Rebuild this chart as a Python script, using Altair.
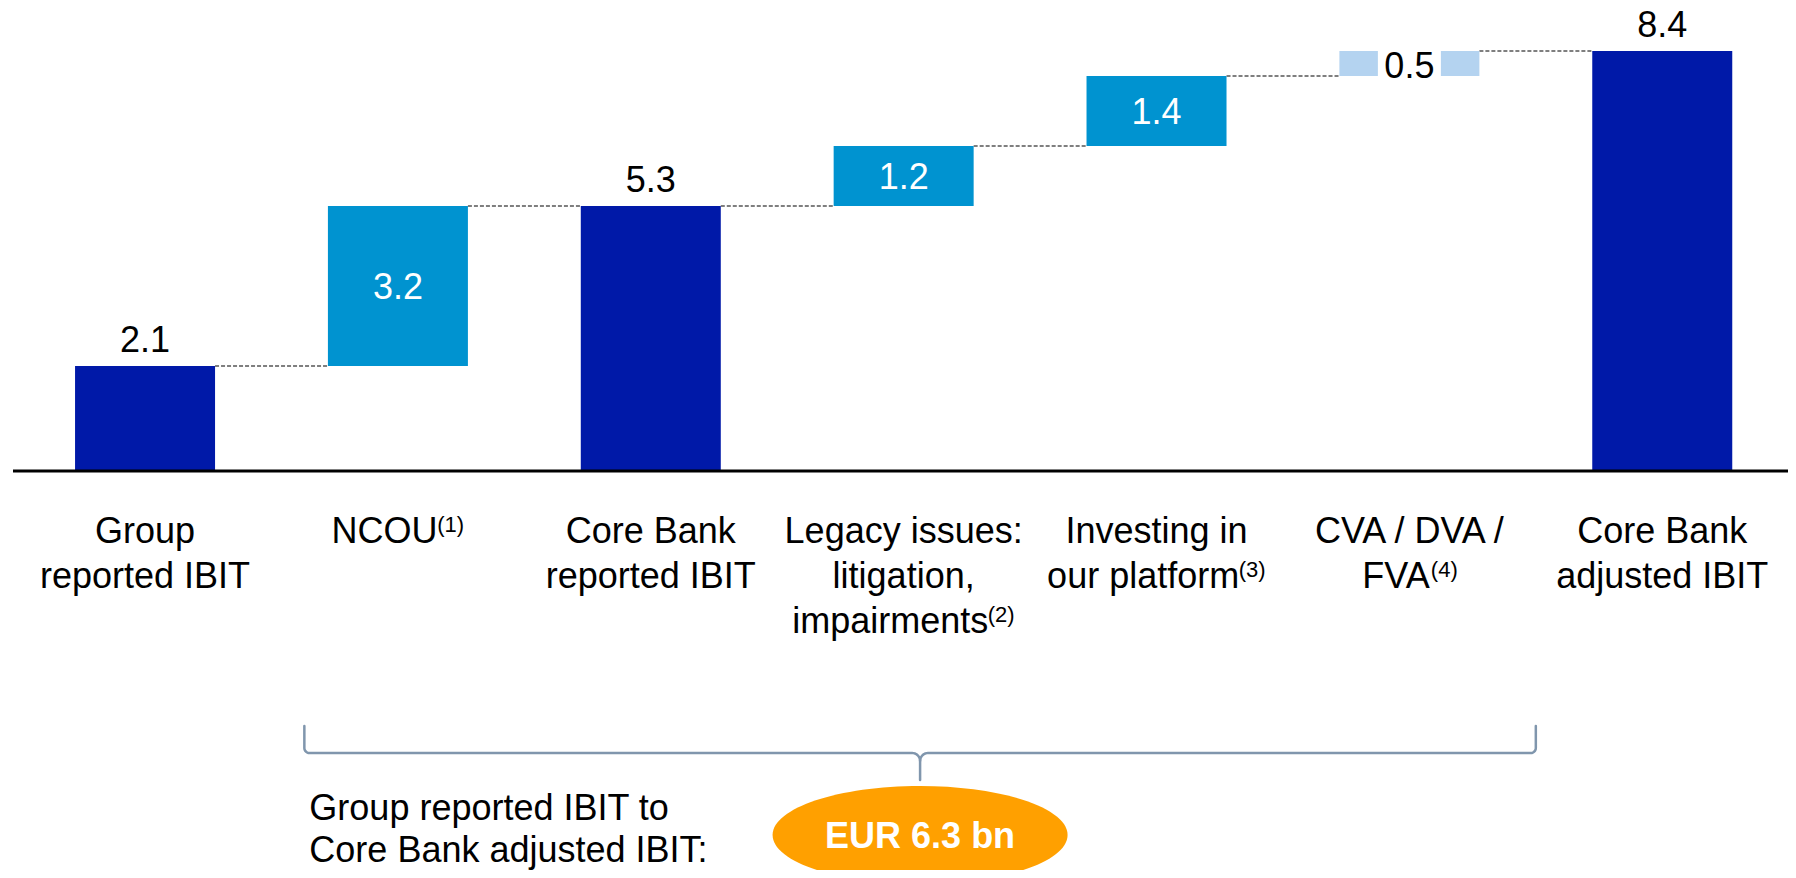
import altair as alt
import pandas as pd
import numpy as np

# ---------------- data ----------------
categories = [
    "Group\nreported IBIT",
    "NCOU",
    "Core Bank\nreported IBIT",
    "Legacy issues:\nlitigation,\nimpairments",
    "Investing in\nour platform",
    "CVA / DVA /\nFVA",
    "Core Bank\nadjusted IBIT",
]
footnotes = ["", "(1)", "", "(2)", "(3)", "(4)", ""]
values = [2.1, 3.2, 5.3, 1.2, 1.4, 0.5, 8.4]
kinds = ["total", "delta", "total", "delta", "delta", "small", "total"]
value_labels = ["2.1", "3.2", "5.3", "1.2", "1.4", "0.5", "8.4"]

summary_text = "Group reported IBIT to\nCore Bank adjusted IBIT:"
summary_value = "EUR 6.3 bn"
bracket_from = 0.63   # category-index position of bracket's left end
bracket_to = 5.5      # category-index position of bracket's right end

# ---------------- layout constants ----------------
W, H = 1780, 862
X_DOM = [-0.5222, 6.4775]
Y_DOM = [-7.98, 9.26]
STEP = W / (X_DOM[1] - X_DOM[0])
FONT = "Liberation Sans, Arial, sans-serif"
FS, SUP_FS = 36, 22
LINE_H = 45
LABEL_Y0 = 535

C_TOTAL = "#0019A8"
C_DELTA = "#0093D0"
C_SMALL = "#B4D3F0"
C_ORANGE = "#FFA000"
C_BRACKET = "#8096AD"

# Arial / Liberation Sans advance widths (per 1000 em)
AW = {" ": 278, "(": 333, ")": 333, ",": 278, ":": 278, "/": 278, ".": 278,
      "A": 667, "B": 667, "C": 722, "D": 722, "F": 611, "G": 778, "I": 278,
      "L": 556, "N": 722, "O": 778, "T": 611, "U": 722, "V": 667,
      "a": 556, "c": 500, "d": 556, "e": 556, "f": 278, "g": 556, "i": 222,
      "j": 222, "k": 500, "l": 222, "m": 833, "n": 556, "o": 556, "p": 556,
      "r": 333, "s": 500, "t": 278, "u": 556, "v": 500, "y": 500}


def text_w(s, fs):
    return sum(AW.get(ch, 556) for ch in s) / 1000 * fs


def to_x(px):
    return X_DOM[0] + px / W * (X_DOM[1] - X_DOM[0])


def to_px(x):
    return (x - X_DOM[0]) / (X_DOM[1] - X_DOM[0]) * W


def to_y(py):
    return Y_DOM[1] - py / H * (Y_DOM[1] - Y_DOM[0])


# ---------------- build tables ----------------
rows = []
level = 0.0
for i, (c, v, k, lab) in enumerate(zip(categories, values, kinds, value_labels)):
    if k == "total":
        start, end = 0.0, v
    else:
        start, end = level, level + v
    level = end
    rows.append(dict(idx=i, cat=c, value=v, kind=k, start=start, end=end,
                     mid=(start + end) / 2, label=lab))
df = pd.DataFrame(rows)

conn = pd.DataFrame(dict(idx=df["idx"][:-1].values,
                         nxt=df["idx"][1:].values,
                         lev=df["end"][:-1].values))

# category label lines (footnote markers set as smaller raised text)
main_rows, sup_rows = [], []
for i, (c, fn) in enumerate(zip(categories, footnotes)):
    lines = c.split("\n")
    for j, ln in enumerate(lines):
        base_y = LABEL_Y0 + LINE_H * j
        sup = fn if j == len(lines) - 1 else ""
        mw = text_w(ln, FS)
        sw = text_w(sup, SUP_FS) if sup else 0.0
        main_rows.append(dict(x=i - sw / 2 / STEP, y=to_y(base_y), t=ln))
        if sup:
            sup_rows.append(dict(x=i + (mw / 2 - sw / 2) / STEP,
                                 y=to_y(base_y - 11), t=sup))
cat_main = pd.DataFrame(main_rows)
cat_sup = pd.DataFrame(sup_rows)

# bracket shape (pixel space -> data space)
xl, xr = to_px(bracket_from), to_px(bracket_to)
xc = (xl + xr) / 2
y_top, y_mid, y_tip = 718, 745, 772
r1, r2 = 5, 8


def arc(cx, cy, r, a0, a1, n=10):
    a = np.radians(np.linspace(a0, a1, n))
    return list(zip(cx + r * np.cos(a), cy + r * np.sin(a)))


left = [(xl, y_top)] + arc(xl + r1, y_mid - r1, r1, 180, 90) + \
       arc(xc - r2, y_mid + r2, r2, -90, 0) + [(xc, y_tip)]
right = arc(xc + r2, y_mid + r2, r2, 180, 270) + \
        arc(xr - r1, y_mid - r1, r1, 90, 0) + [(xr, y_top)]
b_rows = []
for seg, pts in (("l", left), ("r", right)):
    for j, (px, py) in enumerate(pts):
        b_rows.append(dict(seg=seg, ord=j, bx=to_x(px), by=to_y(py)))
bracket = pd.DataFrame(b_rows)

ell_y = to_y(827)
summary = pd.DataFrame(dict(x=[to_x(xl)], y=[to_y(812)], t=[summary_text]))
badge = pd.DataFrame(dict(x=[to_x(xc)], y=[ell_y], t=[summary_value]))

# ---------------- encodings ----------------
xs = alt.Scale(domain=X_DOM, nice=False, zero=False)
ys = alt.Scale(domain=Y_DOM, nice=False, zero=False)
X = alt.X("idx:Q", scale=xs, axis=None)

base = alt.Chart(df)

baseline = alt.Chart(pd.DataFrame(dict(z=[0.0]))).mark_rule(
    color="black", strokeWidth=3
).encode(x=alt.value(5), x2=alt.value(W), y=alt.Y("z:Q", scale=ys, axis=None))

connectors = alt.Chart(conn).mark_rule(
    color="#7F7F7F", strokeWidth=2, strokeDash=[4, 2], xOffset=70, x2Offset=-70
).encode(x=alt.X("idx:Q", scale=xs, axis=None), x2="nxt:Q",
         y=alt.Y("lev:Q", scale=ys, axis=None))

bars = base.mark_bar(size=140).encode(
    x=X,
    y=alt.Y("start:Q", scale=ys, axis=None),
    y2="end:Q",
    color=alt.Color("kind:N", legend=None,
                    scale=alt.Scale(domain=["total", "delta", "small"],
                                    range=[C_TOTAL, C_DELTA, C_SMALL])),
)

gap = base.transform_filter(alt.datum.kind == "small").mark_bar(
    size=63, color="white"
).encode(x=X, y=alt.Y("start:Q", scale=ys, axis=None), y2="end:Q")

top_labels = base.transform_filter(alt.datum.kind == "total").mark_text(
    font=FONT, fontSize=FS, color="black", baseline="alphabetic", dy=-14
).encode(x=X, y=alt.Y("end:Q", scale=ys, axis=None), text="label:N")

in_labels = base.transform_filter(alt.datum.kind == "delta").mark_text(
    font=FONT, fontSize=FS, color="white", baseline="alphabetic", dy=13
).encode(x=X, y=alt.Y("mid:Q", scale=ys, axis=None), text="label:N")

small_labels = base.transform_filter(alt.datum.kind == "small").mark_text(
    font=FONT, fontSize=FS, color="black", baseline="alphabetic", dy=14
).encode(x=X, y=alt.Y("mid:Q", scale=ys, axis=None), text="label:N")

cat_labels = alt.Chart(cat_main).mark_text(
    font=FONT, fontSize=FS, color="black", baseline="alphabetic", align="center"
).encode(x=alt.X("x:Q", scale=xs, axis=None), y=alt.Y("y:Q", scale=ys, axis=None),
         text="t:N")

cat_sups = alt.Chart(cat_sup).mark_text(
    font=FONT, fontSize=SUP_FS, color="black", baseline="alphabetic", align="left"
).encode(x=alt.X("x:Q", scale=xs, axis=None), y=alt.Y("y:Q", scale=ys, axis=None),
         text="t:N")

brace = alt.Chart(bracket).mark_line(
    color=C_BRACKET, strokeWidth=2.5, strokeCap="round", strokeJoin="round"
).encode(x=alt.X("bx:Q", scale=xs, axis=None),
         y=alt.Y("by:Q", scale=ys, axis=None),
         detail="seg:N", order="ord:Q")

ellipse = alt.Chart(badge).mark_point(
    shape="M -1 0 A 1 0.332 0 1 1 1 0 A 1 0.332 0 1 1 -1 0 Z",
    filled=True, fill=C_ORANGE, strokeWidth=0, opacity=1, size=295 * 295
).encode(x=alt.X("x:Q", scale=xs, axis=None), y=alt.Y("y:Q", scale=ys, axis=None))

badge_text = alt.Chart(badge).mark_text(
    font=FONT, fontSize=FS, fontWeight="bold", color="white",
    baseline="alphabetic", dy=13
).encode(x=alt.X("x:Q", scale=xs, axis=None), y=alt.Y("y:Q", scale=ys, axis=None),
         text="t:N")

summary_lbl = alt.Chart(summary).mark_text(
    font=FONT, fontSize=FS, color="black", baseline="alphabetic", align="left",
    lineBreak="\n", lineHeight=42, dx=5
).encode(x=alt.X("x:Q", scale=xs, axis=None), y=alt.Y("y:Q", scale=ys, axis=None),
         text="t:N")

chart = alt.layer(
    connectors, bars, gap, baseline, top_labels, in_labels, small_labels,
    cat_labels, cat_sups, brace, ellipse, badge_text, summary_lbl
).properties(
    width=W, height=H, padding=0,
    autosize=alt.AutoSizeParams(type="none"),
    background="white",
).configure_view(stroke=None)

chart.save("out.html", embed_options={"renderer": "svg", "actions": False})
